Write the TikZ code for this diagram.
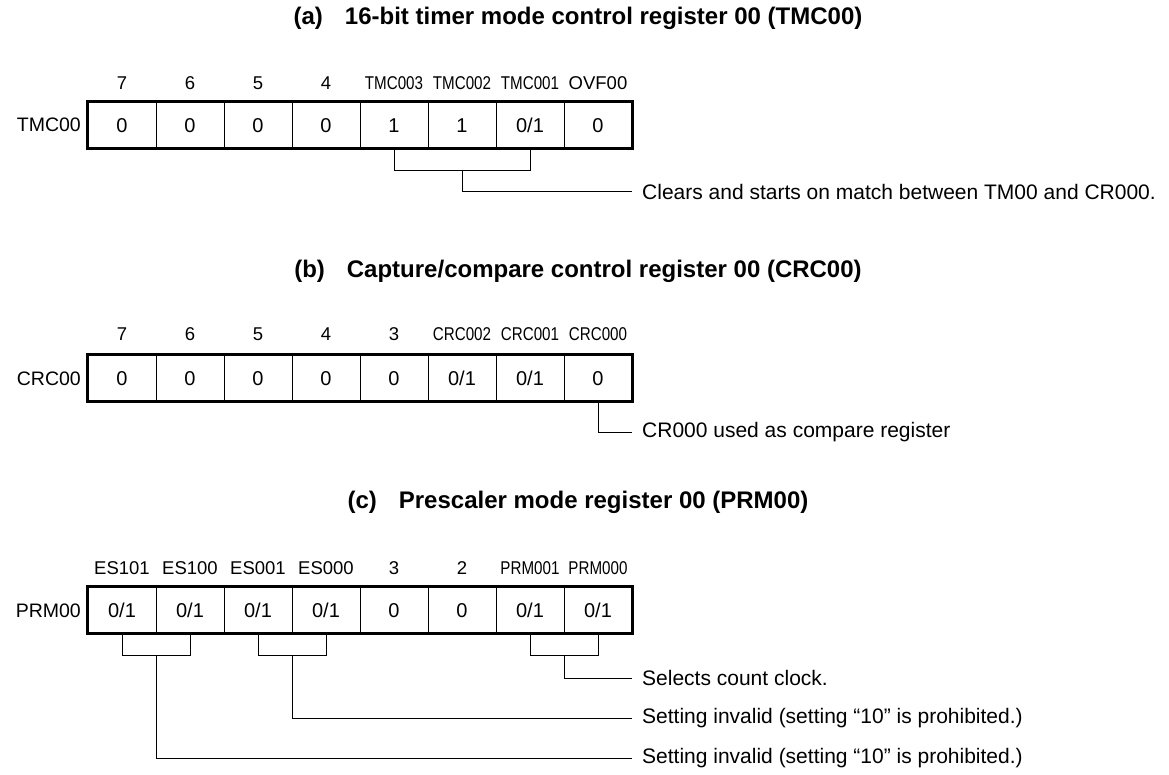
\documentclass[tikz,border=0pt]{standalone}
\usepackage{fontspec}
\setmainfont{Liberation Sans}
\usepackage{graphicx}
\usetikzlibrary{calc}
\newcommand{\cnd}[1]{\scalebox{0.82}[1]{#1}}
\newcommand{\regcell}[4]{\node[cell] (#1) at (#2,#3) {#4};}
\newcommand{\bitlab}[4]{\node[bitlbl] (#1) at (#2,#3) {#4};}
\begin{document}
\begin{tikzpicture}[x=1pt,y=-1pt,
  cell/.style={font=\fontsize{20}{22}\selectfont,draw=black,line width=0.9pt,minimum width=68pt,minimum height=46pt,inner sep=0pt,text height=14.3pt,text depth=0pt},
  bitlbl/.style={font=\fontsize{18.5}{21}\selectfont,anchor=base,inner sep=0pt},
  reglbl/.style={font=\fontsize{19.5}{22}\selectfont,anchor=east,inner sep=0pt,text height=14pt,text depth=0pt},
  ttl/.style={anchor=base,inner sep=0pt,font=\bfseries\fontsize{24}{27}\selectfont},
  note/.style={anchor=west,inner xsep=10pt,inner ysep=0pt,font=\fontsize{21}{24}\selectfont},
  frame/.style={draw=black,line width=2.4pt},
  conn/.style={draw=black,line width=1pt}]
\useasboundingbox (0,0) rectangle (1169,775);

% ---------- (a) ----------
\node[ttl] (ta) at (578,25) {(a)\hspace{22pt}16-bit timer mode control register 00 (TMC00)};
\bitlab{la0}{122}{90}{7}
\bitlab{la1}{190}{90}{6}
\bitlab{la2}{258}{90}{5}
\bitlab{la3}{326}{90}{4}
\bitlab{la4}{394}{90}{\cnd{TMC003}}
\bitlab{la5}{462}{90}{\cnd{TMC002}}
\bitlab{la6}{530}{90}{\cnd{TMC001}}
\bitlab{la7}{598}{90}{OVF00}
\regcell{a0}{122}{125}{0}
\regcell{a1}{190}{125}{0}
\regcell{a2}{258}{125}{0}
\regcell{a3}{326}{125}{0}
\regcell{a4}{394}{125}{1}
\regcell{a5}{462}{125}{1}
\regcell{a6}{530}{125}{0/1}
\regcell{a7}{598}{125}{0}
\draw[frame] (a0.north west) rectangle (a7.south east);
\node[reglbl] (ra) at (81,125) {TMC00};
\node[note] (na) at (632,192) {Clears and starts on match between TM00 and CR000.};
\draw[conn] (a4.south) -- ++(0,22) -| (a6.south);
\draw[conn] ($(a4.south)!0.5!(a6.south)+(0,22)$) |- (na.west);

% ---------- (b) ----------
\node[ttl] (tb) at (578,278) {(b)\hspace{22pt}Capture/compare control register 00 (CRC00)};
\bitlab{lb0}{122}{341}{7}
\bitlab{lb1}{190}{341}{6}
\bitlab{lb2}{258}{341}{5}
\bitlab{lb3}{326}{341}{4}
\bitlab{lb4}{394}{341}{3}
\bitlab{lb5}{462}{341}{\cnd{CRC002}}
\bitlab{lb6}{530}{341}{\cnd{CRC001}}
\bitlab{lb7}{598}{341}{\cnd{CRC000}}
\regcell{b0}{122}{378}{0}
\regcell{b1}{190}{378}{0}
\regcell{b2}{258}{378}{0}
\regcell{b3}{326}{378}{0}
\regcell{b4}{394}{378}{0}
\regcell{b5}{462}{378}{0/1}
\regcell{b6}{530}{378}{0/1}
\regcell{b7}{598}{378}{0}
\draw[frame] (b0.north west) rectangle (b7.south east);
\node[reglbl] (rb) at (81,378) {CRC00};
\node[note] (nb) at (632,432) {CR000 used as compare register};
\draw[conn] (b7.south) |- (nb.west);

% ---------- (c) ----------
\node[ttl] (tc) at (578,508) {(c)\hspace{22pt}Prescaler mode register 00 (PRM00)};
\bitlab{lc0}{122}{574}{ES101}
\bitlab{lc1}{190}{574}{ES100}
\bitlab{lc2}{258}{574}{ES001}
\bitlab{lc3}{326}{574}{ES000}
\bitlab{lc4}{394}{574}{3}
\bitlab{lc5}{462}{574}{2}
\bitlab{lc6}{530}{574}{\cnd{PRM001}}
\bitlab{lc7}{598}{574}{\cnd{PRM000}}
\regcell{c0}{122}{610}{0/1}
\regcell{c1}{190}{610}{0/1}
\regcell{c2}{258}{610}{0/1}
\regcell{c3}{326}{610}{0/1}
\regcell{c4}{394}{610}{0}
\regcell{c5}{462}{610}{0}
\regcell{c6}{530}{610}{0/1}
\regcell{c7}{598}{610}{0/1}
\draw[frame] (c0.north west) rectangle (c7.south east);
\node[reglbl] (rc) at (81,610) {PRM00};
\node[note] (nc1) at (632,678) {Selects count clock.};
\node[note] (nc2) at (632,718) {Setting invalid (setting “10” is prohibited.)};
\node[note] (nc3) at (632,758) {Setting invalid (setting “10” is prohibited.)};
\draw[conn] (c6.south) -- ++(0,22) -| (c7.south);
\draw[conn] ($(c6.south)!0.5!(c7.south)+(0,22)$) |- (nc1.west);
\draw[conn] (c2.south) -- ++(0,22) -| (c3.south);
\draw[conn] ($(c2.south)!0.5!(c3.south)+(0,22)$) |- (nc2.west);
\draw[conn] (c0.south) -- ++(0,22) -| (c1.south);
\draw[conn] ($(c0.south)!0.5!(c1.south)+(0,22)$) |- (nc3.west);
\end{tikzpicture}
\end{document}
